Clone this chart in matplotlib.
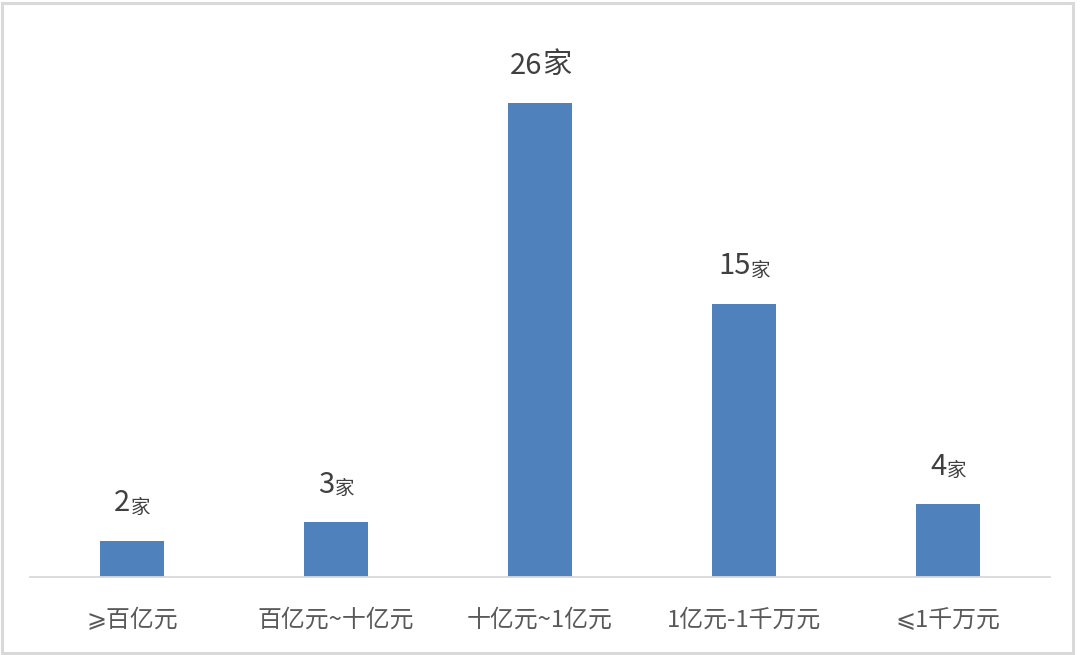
import matplotlib.pyplot as plt
from matplotlib.patches import Rectangle

plt.rcParams['font.family'] = ['Noto Sans CJK SC', 'DejaVu Sans']

# Data
categories = ['⩾百亿元', '百亿元~十亿元', '十亿元~1亿元', '1亿元-1千万元', '⩽1千万元']
counts = [2, 3, 26, 15, 4]
unit = '家'

fig = plt.figure(figsize=(10.8, 6.55), dpi=100)
ax = fig.add_axes([30 / 1080, 78 / 655, 1020 / 1080, 547 / 655])

x = range(len(categories))
ax.bar(x, counts, width=0.31, color='#4f81bd', zorder=2)

ax.set_xlim(-0.5, len(categories) - 0.5)
ax.set_ylim(0, 30)

# value labels: big number + smaller unit (except the tallest bar)
big = max(counts)
for i, v in enumerate(counts):
    unit_size = 21 if v == big else 14
    shift = -10 if v == big else -7
    num = ax.annotate(str(v), xy=(i, v), xytext=(shift, 16), textcoords='offset points',
                      ha='center', va='bottom', fontsize=21, color='#404040')
    ax.annotate(unit, xy=(1, 0.02), xycoords=num, ha='left', va='bottom',
                fontsize=unit_size, color='#404040')

ax.set_xticks(list(x))
ax.set_xticklabels(categories, fontsize=17.2, color='#595959')
ax.tick_params(axis='x', length=0, pad=23)
ax.set_yticks([])

for side in ['top', 'right', 'left']:
    ax.spines[side].set_visible(False)
ax.spines['bottom'].set_color('#d9d9d9')
ax.spines['bottom'].set_linewidth(1.3)

# light frame around the picture
fig.patches.append(Rectangle((2 / 1080, 2 / 655), 1071 / 1080, 650 / 655,
                             transform=fig.transFigure, fill=False,
                             edgecolor='#d9d9d9', linewidth=2.2))

fig.savefig('out.png', dpi=100)
